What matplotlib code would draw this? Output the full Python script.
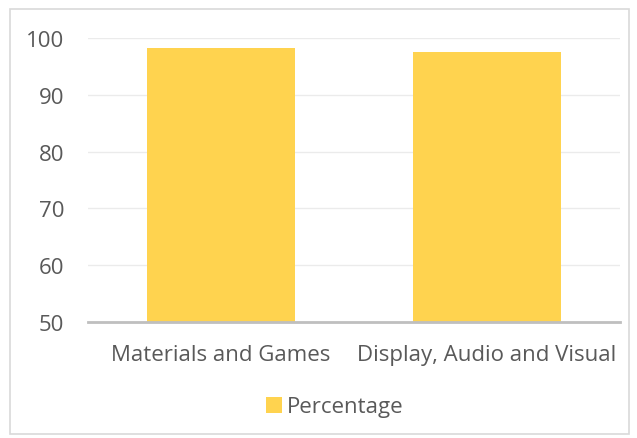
import matplotlib
matplotlib.use('Agg')
import matplotlib.pyplot as plt
from matplotlib.patches import Rectangle

categories = ['Materials and Games', 'Display, Audio and Visual']
percentage = [98.2, 97.6]
yticks = [50, 60, 70, 80, 90, 100]

plt.rcParams['font.family'] = ['Open Sans', 'DejaVu Sans']
txt = '#595959'

fig = plt.figure(figsize=(6.37, 4.39), dpi=100)
fig.patches.append(Rectangle((10/637, 4/439), 619/637, 425/439, transform=fig.transFigure,
                             fill=False, edgecolor='#D9D9D9', linewidth=1.2))
ax = fig.add_axes([88/637, 1 - 323/439, 532/637, 284/439])

x = list(range(len(categories)))
ax.bar(x, [p - 50 for p in percentage], bottom=50, width=0.553, color='#FFD34F',
       label='Percentage', zorder=3)
ax.set_xlim(-0.5, 1.5)
ax.set_ylim(50, 100)
ax.set_yticks(yticks)
ax.set_xticks(x)
ax.set_xticklabels(categories)
ax.grid(axis='y', color='#EBEBEB', linewidth=1, zorder=0)
for s in ['top', 'right', 'left']:
    ax.spines[s].set_visible(False)
ax.spines['bottom'].set_color('#BFBFBF')
ax.spines['bottom'].set_linewidth(2)
ax.spines['bottom'].set_zorder(4)
ax.tick_params(length=0, labelsize=16, colors=txt, pad=16)
ax.tick_params(axis='y', pad=17)

leg = fig.legend(loc='center', bbox_to_anchor=(335/637, 1 - 408/439), frameon=False,
                 fontsize=16, handlelength=0.7, handleheight=0.7, handletextpad=0.25)
for t in leg.get_texts():
    t.set_color(txt)

fig.savefig('out.png', dpi=100)
